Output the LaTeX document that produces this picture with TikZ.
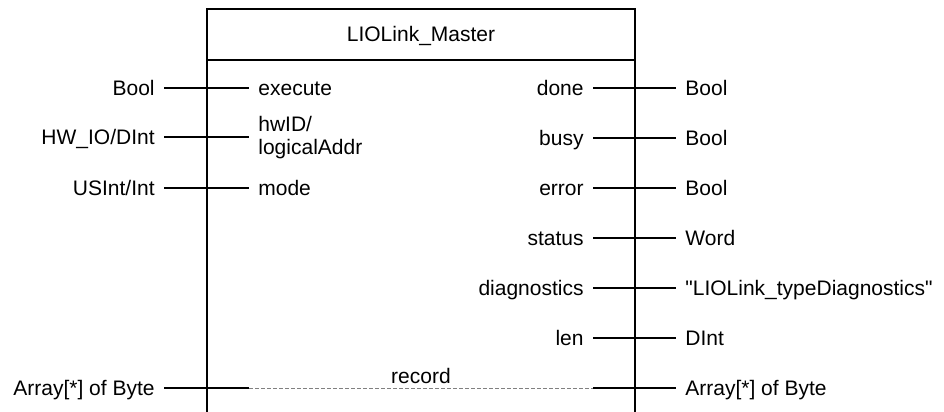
\documentclass[tikz,border=0pt]{standalone}
\usepackage{fontspec}
\setmainfont{Liberation Sans}[Ligatures=TeXOff]
\begin{document}
\begin{tikzpicture}[x=0.5pt, y=-0.5pt,
  every node/.style={font=\fontsize{10.5}{12}\selectfont, inner ysep=0pt},
  lbl/.style={text height=7.5pt, text depth=0pt, inner xsep=4.5pt},
  wire/.style={line width=1pt},
  frame/.style={line width=1pt},
  inout/.style={gray, line width=0.5pt, dash pattern=on 2pt off 1pt}]
\useasboundingbox (0,0) rectangle (944,412);

% block outline, open at the bottom
\draw[frame] (207,412) -- (207,9) -- (635,9) -- (635,412);
\draw[frame] (207,60) -- (635,60);
\node (title) at (421,36) {LIOLink\_Master};

% inputs
\node[lbl, anchor=east] (tExec) at (164,88) {Bool};
\node[lbl, anchor=west] (pExec) at (249,88) {execute};
\node[lbl, anchor=east] (tHw) at (164,137) {HW\_IO/DInt};
\node[anchor=west, align=left, inner xsep=4.5pt, font=\fontsize{10.5}{11.5}\selectfont] (pHw) at (249,138) {hwID/\\logicalAddr};
\node[lbl, anchor=east] (tMode) at (164,188) {USInt/Int};
\node[lbl, anchor=west] (pMode) at (249,188) {mode};

\draw[wire] (tExec) -- (pExec);
\draw[wire] (tHw) -- (tHw -| pHw.west);
\draw[wire] (tMode) -- (pMode);

% outputs
\node[lbl, anchor=east] (pDone) at (593,88) {done};
\node[lbl, anchor=west] (tDone) at (676,88) {Bool};
\node[lbl, anchor=east] (pBusy) at (593,138) {busy};
\node[lbl, anchor=west] (tBusy) at (676,138) {Bool};
\node[lbl, anchor=east] (pErr) at (593,188) {error};
\node[lbl, anchor=west] (tErr) at (676,188) {Bool};
\node[lbl, anchor=east] (pStat) at (593,238) {status};
\node[lbl, anchor=west] (tStat) at (676,238) {Word};
\node[lbl, anchor=east] (pDiag) at (593,288) {diagnostics};
\node[lbl, anchor=west] (tDiag) at (676,288) {"LIOLink\_typeDiagnostics"};
\node[lbl, anchor=east] (pLen) at (593,338) {len};
\node[lbl, anchor=west] (tLen) at (676,338) {DInt};

\foreach \p/\t in {pDone/tDone, pBusy/tBusy, pErr/tErr, pStat/tStat, pDiag/tDiag, pLen/tLen}
  \draw[wire] (\p) -- (\t);

% in/out parameter
\node[lbl, anchor=east] (tRecIn) at (164,388) {Array[*] of Byte};
\node[lbl, anchor=west] (tRecOut) at (676,388) {Array[*] of Byte};
\coordinate (recL) at (249,388);
\coordinate (recR) at (593,388);
\node[anchor=base, inner sep=0pt] (pRec) at (421,383) {record};
\draw[wire] (tRecIn) -- (recL);
\draw[inout] (recL) -- (recR);
\draw[wire] (recR) -- (tRecOut);
\end{tikzpicture}
\end{document}
